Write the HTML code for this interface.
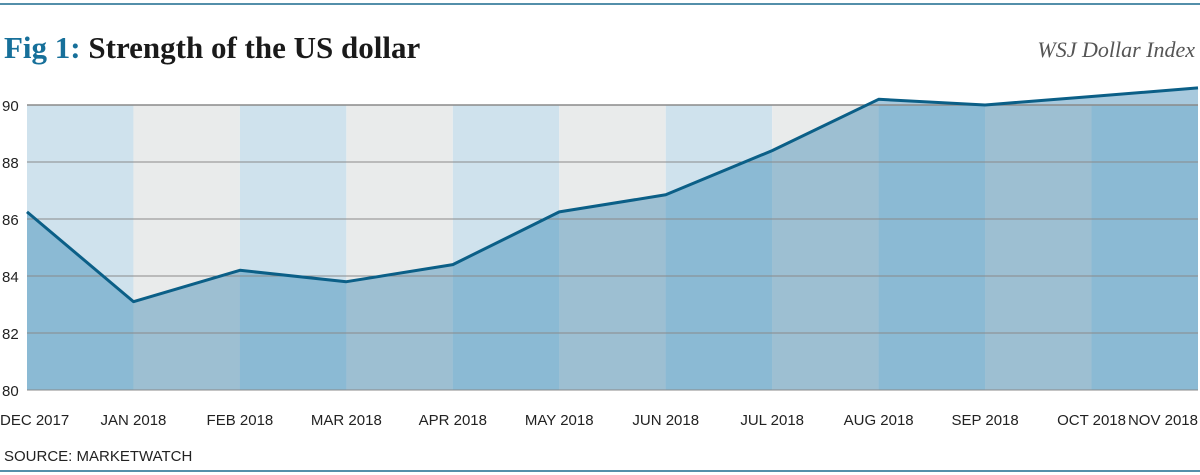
<!DOCTYPE html>
<html><head><meta charset="utf-8"><style>
body{margin:0;background:#fff;width:1200px;height:475px;overflow:hidden}
svg{display:block}
.t{font-family:"Liberation Sans Narrow","Liberation Sans",sans-serif;font-size:15px;fill:#222}
</style></head><body>
<svg id="c" width="1200" height="475">
<line x1="0" y1="4" x2="1200" y2="4" stroke="#1a6a8e" stroke-width="1.5"/>
<text x="4" y="58" font-family="Liberation Serif,serif" font-weight="bold" font-size="31"><tspan fill="#17709a">Fig 1:</tspan><tspan fill="#1a1a1a"> Strength of the US dollar</tspan></text>
<text x="1195" y="57" text-anchor="end" font-family="Liberation Serif,serif" font-style="italic" font-size="22" fill="#555">WSJ Dollar Index</text>
<g id="plot"></g>
<text x="4" y="461" class="t" font-size="14">SOURCE: MARKETWATCH</text>
<line x1="0" y1="471" x2="1200" y2="471" stroke="#1a6a8e" stroke-width="1.5"/>
</svg>
<script>
const months=["DEC 2017","JAN 2018","FEB 2018","MAR 2018","APR 2018","MAY 2018","JUN 2018","JUL 2018","AUG 2018","SEP 2018","OCT 2018","NOV 2018"];
const values=[86.25,83.1,84.2,83.8,84.4,86.25,86.85,88.4,90.2,90.0,90.3,90.6];
const yTicks=[80,82,84,86,88,90];
const X0=27,X1=1198,Y0=390,Y1=105,VMIN=80,VMAX=90;
const xs=i=>X0+(X1-X0)*i/(months.length-1);
const ys=v=>Y0-(v-VMIN)/(VMAX-VMIN)*(Y0-Y1);
const NS="http://www.w3.org/2000/svg";
const g=document.getElementById('plot');
function mk(t,a){const e=document.createElementNS(NS,t);for(const k in a)e.setAttribute(k,a[k]);g.appendChild(e);return e;}
const defs=mk('defs',{});
const cp=document.createElementNS(NS,'clipPath');cp.setAttribute('id','under');
const pts=values.map((v,i)=>xs(i)+','+ys(v)).join(' ');
const cpp=document.createElementNS(NS,'polygon');cpp.setAttribute('points',X0+','+Y0+' '+pts+' '+X1+','+Y0);cp.appendChild(cpp);defs.appendChild(cp);
for(let i=0;i<months.length-1;i++){
  const w=xs(i+1)-xs(i);
  const b=mk('rect',{x:xs(i),y:Y1,width:w,height:Y0-Y1,fill:i%2?'#e9ebeb':'#cfe2ed'});
  
  
}
const area=mk('polygon',{points:X0+','+Y0+' '+pts+' '+X1+','+Y0,fill:'#a8c9dd'});


for(let i=0;i<months.length-1;i++){
  const w=xs(i+1)-xs(i);
  const b=mk('rect',{x:xs(i),y:Y1,width:w,height:Y0-Y1,fill:i%2?'#9dbfd2':'#8bbad4','clip-path':'url(#under)'});
  
  
}
yTicks.forEach(v=>{
  const l=mk('line',{x1:X0,x2:X1,y1:ys(v),y2:ys(v),stroke:'#8a8a8a','stroke-width':v===90?1.5:1});
  
  
  const t=mk('text',{x:2,y:ys(v)+6,class:'t'});t.textContent=v;
  
  
});
const ln=mk('polyline',{points:pts,fill:'none',stroke:'#0b5f87','stroke-width':3,'stroke-linejoin':'round'});


months.forEach((m,i)=>{
  const anc=i===0?'start':(i===months.length-1?'end':'middle');
  const t=mk('text',{x:i===0?0:(i===months.length-1?1198:xs(i)),y:425,class:'t','text-anchor':anc});
  t.textContent=m;
  
  
});
</script>
</body></html>
